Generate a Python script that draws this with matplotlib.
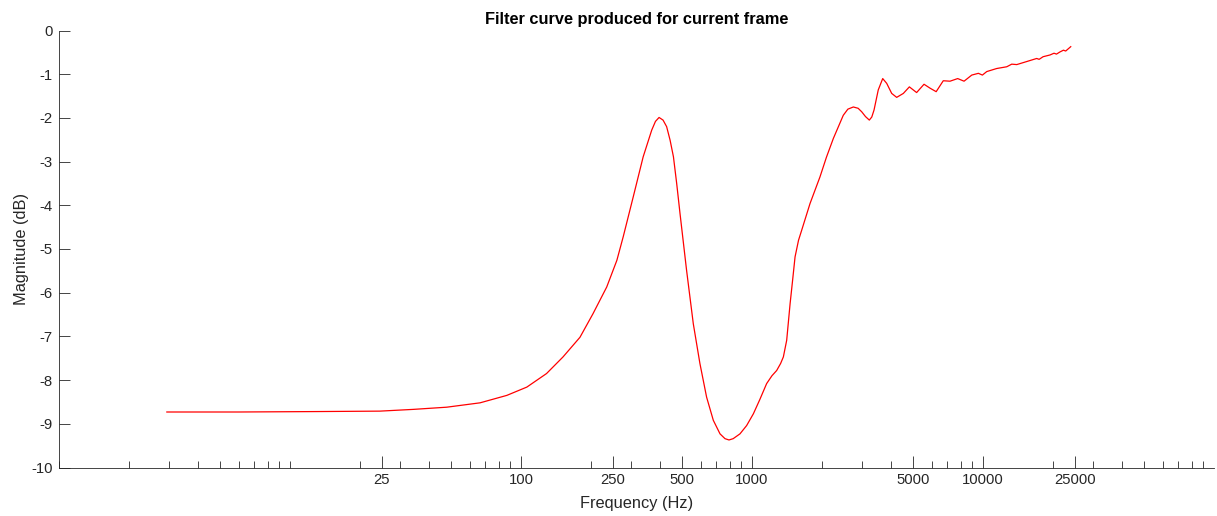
import matplotlib
matplotlib.use("Agg")
import matplotlib.pyplot as plt

plt.rcParams['font.family'] = ['Liberation Sans', 'DejaVu Sans']
plt.rcParams['axes.unicode_minus'] = False

# filter response (Hz, dB)
freq = [2.93, 6.0, 13.0, 24.5, 34.2, 47.7, 66.5, 86.8, 106, 129, 152, 180,
        205, 235, 260, 277, 306, 338, 368, 382, 396, 412, 427, 442, 457,
        472, 488, 521, 557, 595, 636, 680, 727, 764, 795, 829, 887, 948,
        1014, 1080, 1157, 1220, 1279, 1330, 1367, 1413, 1462, 1500, 1536,
        1590, 1641, 1783, 1969, 2100, 2250, 2484, 2600, 2746, 2880, 2985,
        3100, 3220, 3300, 3375, 3520, 3680, 3830, 4025, 4230, 4520, 4800,
        5160, 5555, 5900, 6270, 6730, 7200, 7770, 8280, 8940, 9550, 9940,
        10380, 11460, 12670, 13320, 14000, 15470, 17080, 17500, 18200,
        19500, 20300, 20800, 21550, 22300, 22800, 23980]
mag = [-8.73, -8.73, -8.72, -8.71, -8.67, -8.62, -8.52, -8.35, -8.16, -7.85,
       -7.47, -7.02, -6.48, -5.87, -5.26, -4.72, -3.81, -2.89, -2.28, -2.08,
       -1.99, -2.05, -2.20, -2.51, -2.89, -3.50, -4.19, -5.49, -6.71, -7.62,
       -8.39, -8.92, -9.23, -9.34, -9.37, -9.34, -9.23, -9.04, -8.77, -8.45,
       -8.08, -7.90, -7.78, -7.62, -7.47, -7.09, -6.25, -5.70, -5.18, -4.80,
       -4.57, -3.96, -3.35, -2.90, -2.47, -1.94, -1.80, -1.75, -1.78, -1.86,
       -1.97, -2.05, -1.98, -1.82, -1.36, -1.10, -1.21, -1.44, -1.53, -1.44,
       -1.29, -1.42, -1.23, -1.32, -1.40, -1.15, -1.16, -1.10, -1.16, -1.02,
       -0.98, -1.02, -0.94, -0.87, -0.83, -0.77, -0.78, -0.71, -0.64, -0.66,
       -0.60, -0.56, -0.52, -0.54, -0.49, -0.45, -0.47, -0.37]

major_ticks = [25, 100, 250, 500, 1000, 5000, 10000, 25000]
minor_ticks = [m * 10 ** k for k in range(5) for m in range(1, 10)
               if m * 10 ** k not in major_ticks]
y_ticks = list(range(-10, 1))

fig = plt.figure(figsize=(12.17, 5.16), dpi=100)
ax = fig.add_axes([59 / 1217, 48.5 / 516, 1155 / 1217, 437 / 516])

ax.plot(freq, mag, color='#ff0000', lw=0.9)

ax.set_xscale('log')
ax.set_xlim(1, 100000)
ax.set_ylim(-10, 0)
ax.set_xticks(major_ticks)
ax.set_xticklabels([str(t) for t in major_ticks])
ax.set_xticks(minor_ticks, minor=True)
ax.xaxis.set_minor_formatter(matplotlib.ticker.NullFormatter())
ax.set_yticks(y_ticks)
ax.set_yticklabels([str(t) for t in y_ticks])

for s in ['top', 'right']:
    ax.spines[s].set_visible(False)
for s in ['left', 'bottom']:
    ax.spines[s].set_color('#262626')
    ax.spines[s].set_linewidth(0.6)

ax.tick_params(axis='x', which='major', direction='in', length=8.6,
               width=0.6, color='#262626', labelsize=10.7, pad=4,
               labelcolor='#262626')
ax.tick_params(axis='x', which='minor', direction='in', length=5,
               width=0.6, color='#262626')
ax.tick_params(axis='y', which='major', direction='in', length=8,
               width=0.6, color='#262626', labelsize=10.7, pad=4.5,
               labelcolor='#262626')

ax.set_title('Filter curve produced for current frame', fontsize=11.8,
             fontweight='bold', pad=5, color='#000000')
ax.set_xlabel('Frequency (Hz)', fontsize=11.8, color='#262626')
ax.set_ylabel('Magnitude (dB)', fontsize=11.8, color='#262626')
ax.xaxis.set_label_coords(0.5, -0.066)
ax.yaxis.set_label_coords(-0.026, 0.5)

fig.savefig('out.png', dpi=100)
